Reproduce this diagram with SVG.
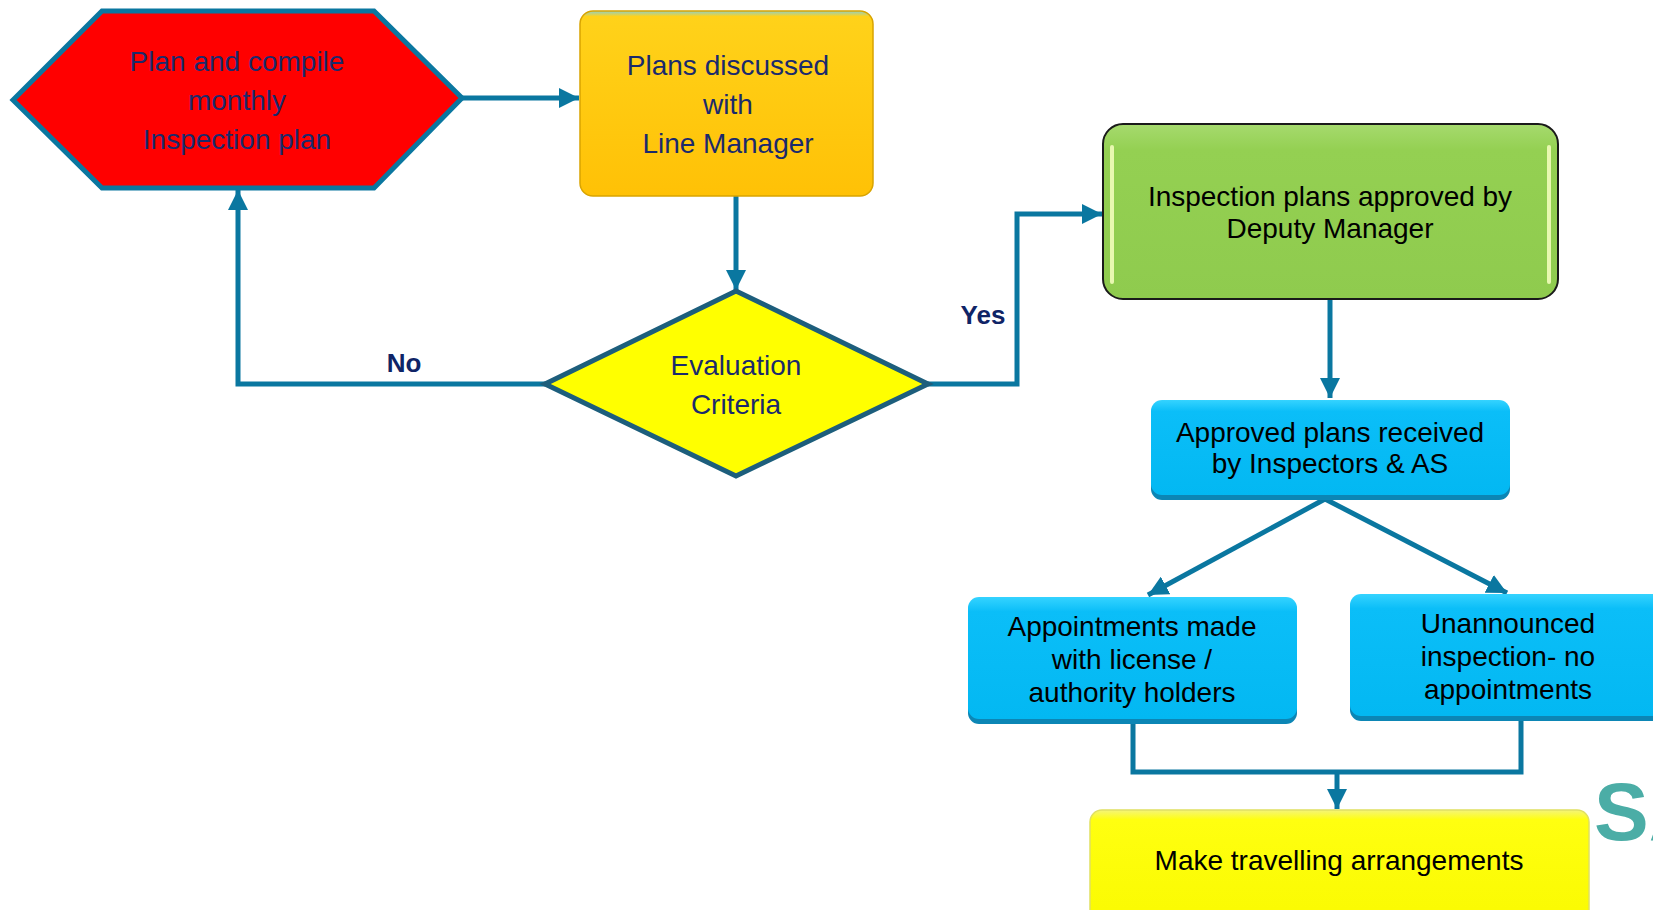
<svg xmlns="http://www.w3.org/2000/svg" width="1653" height="910" viewBox="0 0 1653 910">
<defs>
<marker id="ah" markerUnits="userSpaceOnUse" markerWidth="22" markerHeight="20" refX="20" refY="10" orient="auto">
<path d="M0,0 L20,10 L0,20 Z" fill="#0A77A0"/>
</marker>
<linearGradient id="gOrange" x1="0" y1="0" x2="0" y2="1">
<stop offset="0" stop-color="#8FD0C8"/>
<stop offset="0.03" stop-color="#FFD21A"/>
<stop offset="1" stop-color="#FFC106"/>
</linearGradient>
<linearGradient id="gGreen" x1="0" y1="0" x2="0" y2="1">
<stop offset="0" stop-color="#A6DA6E"/>
<stop offset="0.15" stop-color="#94D052"/>
<stop offset="1" stop-color="#8FCB4E"/>
</linearGradient>
<linearGradient id="gBlue" x1="0" y1="0" x2="0" y2="1">
<stop offset="0" stop-color="#35D3FF"/>
<stop offset="0.12" stop-color="#0BBEF8"/>
<stop offset="1" stop-color="#03B8F2"/>
</linearGradient>
<linearGradient id="gYellow" x1="0" y1="0" x2="0" y2="1">
<stop offset="0" stop-color="#F4F47A"/>
<stop offset="0.08" stop-color="#FFFF10"/>
<stop offset="1" stop-color="#FAFA00"/>
</linearGradient>
</defs>
<style>
.t{font-family:"Liberation Sans",Arial,sans-serif;font-size:28px;text-anchor:middle}
.navy{fill:#1A2A6C}
.blk{fill:#000000}
.lbl{font-family:"Liberation Sans",Arial,sans-serif;font-size:26px;font-weight:bold;fill:#0F2466;text-anchor:middle}
.con{fill:none;stroke:#0A77A0;stroke-width:5}
.shadow{fill:#0C86B5}
</style>
<rect width="1653" height="910" fill="#FFFFFF"/>

<g id="connectors">
<path class="con" d="M462,98 L579,98" marker-end="url(#ah)"/>
<path class="con" d="M736,196 L736,290" marker-end="url(#ah)"/>
<path class="con" d="M545,384 L238,384 L238,190" marker-end="url(#ah)"/>
<path class="con" d="M928,384 L1017,384 L1017,214 L1102,214" marker-end="url(#ah)"/>
<path class="con" d="M1330,299 L1330,398" marker-end="url(#ah)"/>
<path class="con" d="M1325,499 L1148,595" marker-end="url(#ah)"/>
<path class="con" d="M1325,499 L1507,593" marker-end="url(#ah)"/>
<path class="con" d="M1133,720 L1133,772 L1521,772 L1521,718"/>
<path class="con" d="M1337,772 L1337,809" marker-end="url(#ah)"/>
<text class="lbl" x="404" y="372">No</text>
<text class="lbl" x="983" y="324">Yes</text>
</g>

<g id="node-plan">
<polygon points="13,100 102,11 374,11 462,98 374,188 102,188" fill="#FF0000" stroke="#0A77A0" stroke-width="5" stroke-linejoin="miter"/>
<text class="t navy" x="237" y="71">Plan and compile</text>
<text class="t navy" x="237" y="110">monthly</text>
<text class="t navy" x="237" y="149">Inspection plan</text>
</g>

<g id="node-discussed">
<rect x="580" y="11" width="293" height="185" rx="13" fill="url(#gOrange)" stroke="#D9A400" stroke-width="1.5"/>
<text class="t navy" x="728" y="75">Plans discussed</text>
<text class="t navy" x="728" y="114">with</text>
<text class="t navy" x="728" y="153">Line Manager</text>
</g>

<g id="node-evaluation">
<polygon points="736,291 928,384 736,476 545,384" fill="#FFFF00" stroke="#1D5E7C" stroke-width="5" stroke-linejoin="miter"/>
<text class="t navy" x="736" y="375">Evaluation</text>
<text class="t navy" x="736" y="414">Criteria</text>
</g>

<g id="node-approved">
<rect x="1103" y="124" width="455" height="175" rx="20" fill="url(#gGreen)" stroke="#1A1A1A" stroke-width="2"/>
<line x1="1112" y1="147" x2="1112" y2="282" stroke="#E8F8B0" stroke-width="4" stroke-linecap="round"/>
<line x1="1549" y1="147" x2="1549" y2="282" stroke="#E8F8B0" stroke-width="4" stroke-linecap="round"/>
<text class="t blk" x="1330" y="206">Inspection plans approved by</text>
<text class="t blk" x="1330" y="238">Deputy Manager</text>
</g>

<g id="node-received">
<rect x="1151" y="403" width="359" height="97" rx="11" class="shadow"/>
<rect x="1151" y="400" width="359" height="95" rx="11" fill="url(#gBlue)"/>
<text class="t blk" x="1330" y="442">Approved plans received</text>
<text class="t blk" x="1330" y="473">by Inspectors &amp; AS</text>
</g>

<g id="node-appointments">
<rect x="968" y="600" width="329" height="124" rx="11" class="shadow"/>
<rect x="968" y="597" width="329" height="122" rx="11" fill="url(#gBlue)"/>
<text class="t blk" x="1132" y="636">Appointments made</text>
<text class="t blk" x="1132" y="669">with license /</text>
<text class="t blk" x="1132" y="702">authority holders</text>
</g>

<g id="node-unannounced">
<rect x="1350" y="597" width="330" height="124" rx="11" class="shadow"/>
<rect x="1350" y="594" width="330" height="122" rx="11" fill="url(#gBlue)"/>
<text class="t blk" x="1508" y="633">Unannounced</text>
<text class="t blk" x="1508" y="666">inspection- no</text>
<text class="t blk" x="1508" y="699">appointments</text>
</g>

<g id="node-travel">
<rect x="1090" y="810" width="499" height="120" rx="12" fill="url(#gYellow)" stroke="#E0E060" stroke-width="1.5"/>
<text class="t blk" x="1339" y="870">Make travelling arrangements</text>
</g>

<text x="1594" y="840" font-family="Liberation Sans,Arial,sans-serif" font-weight="bold" font-size="82" fill="#4BADA6">SA</text>
</svg>
